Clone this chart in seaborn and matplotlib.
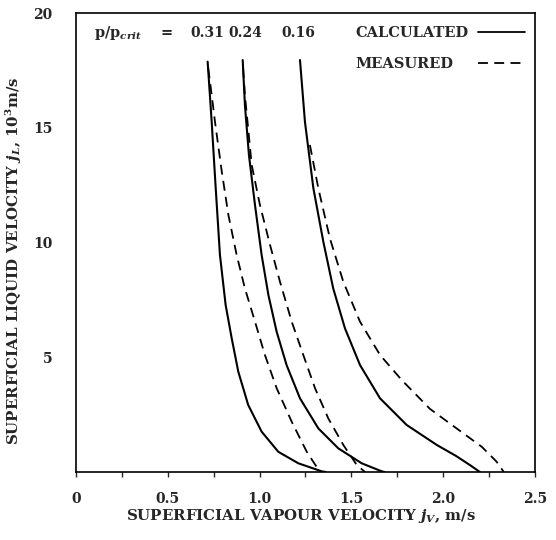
import matplotlib
matplotlib.use('Agg')
import matplotlib.pyplot as plt
import seaborn as sns
import numpy as np
import pandas as pd
from matplotlib.lines import Line2D
from matplotlib.legend import Legend
from matplotlib.ticker import MultipleLocator, FuncFormatter

sns.set_style('ticks')
plt.rcParams['font.family'] = ['DejaVu Serif']
plt.rcParams['font.weight'] = 'bold'
plt.rcParams['mathtext.fontset'] = 'dejavuserif'

# pressure ratios p/p_crit
ratios = ['0.31', '0.24', '0.16']

# calculated curves (jV in m/s, jL in 10^3 m/s)
calc_jv_031 = [0.717, 0.739, 0.761, 0.784, 0.815, 0.848, 0.884, 0.938, 1.011, 1.102, 1.211, 1.338, 1.36]
calc_jl_031 = [17.88, 15.26, 12.36, 9.46, 7.28, 5.83, 4.37, 2.92, 1.76, 0.88, 0.38, 0.03, 0.0]
calc_jv_024 = [0.908, 0.920, 0.942, 0.975, 1.011, 1.048, 1.093, 1.147, 1.220, 1.320, 1.429, 1.556, 1.665, 1.68]
calc_jl_024 = [17.95, 15.99, 13.81, 11.63, 9.46, 7.71, 6.11, 4.66, 3.21, 1.90, 1.03, 0.38, 0.03, 0.0]
calc_jv_016 = [1.220, 1.247, 1.293, 1.347, 1.401, 1.465, 1.547, 1.656, 1.801, 1.965, 2.070, 2.150, 2.20]
calc_jl_016 = [17.95, 15.26, 12.36, 10.04, 8.00, 6.26, 4.66, 3.21, 2.05, 1.18, 0.70, 0.28, 0.0]

# measured curves
meas_jv_031 = [0.720, 0.730, 0.757, 0.794, 0.830, 0.875, 0.920, 0.975, 1.029, 1.093, 1.175, 1.257, 1.329]
meas_jl_031 = [17.60, 17.00, 15.26, 13.09, 11.20, 9.46, 8.00, 6.55, 5.10, 3.65, 2.19, 0.88, 0.0]
meas_jv_024 = [0.910, 0.920, 0.957, 1.002, 1.057, 1.111, 1.175, 1.238, 1.302, 1.374, 1.456, 1.529, 1.574]
meas_jl_024 = [17.60, 16.43, 13.38, 11.63, 9.89, 8.29, 6.55, 5.10, 3.65, 2.34, 1.18, 0.31, 0.0]
meas_jv_016 = [1.274, 1.320, 1.383, 1.456, 1.547, 1.656, 1.775, 1.928, 2.073, 2.210, 2.291, 2.330]
meas_jl_016 = [14.25, 12.36, 10.18, 8.29, 6.55, 5.10, 4.00, 2.75, 1.90, 1.10, 0.45, 0.0]

curves = [
    ('0.31', 'CALCULATED', calc_jv_031, calc_jl_031),
    ('0.24', 'CALCULATED', calc_jv_024, calc_jl_024),
    ('0.16', 'CALCULATED', calc_jv_016, calc_jl_016),
    ('0.31', 'MEASURED', meas_jv_031, meas_jl_031),
    ('0.24', 'MEASURED', meas_jv_024, meas_jl_024),
    ('0.16', 'MEASURED', meas_jv_016, meas_jl_016),
]
rows = []
for r, kind, xs, ys in curves:
    for x, y in zip(xs, ys):
        rows.append({'ratio': r, 'kind': kind, 'jv': x, 'jl': y})
df = pd.DataFrame(rows)
df['curve'] = df['ratio'] + '_' + df['kind']

fig = plt.figure(figsize=(5.56, 5.40), dpi=100)
ax = fig.add_axes([0.1367, 0.1259, 0.8255, 0.8500])

dash = (0, (5.5, 3.5))
for name, g in df.groupby('curve', sort=False):
    kind = g['kind'].iloc[0]
    sns.lineplot(data=g, x='jv', y='jl', sort=False, estimator=None, ax=ax,
                 color='black', lw=1.5 if kind == 'CALCULATED' else 1.3,
                 legend=False, linestyle='-' if kind == 'CALCULATED' else dash,
                 solid_joinstyle='round')

ax.set_xlim(0, 2.5)
ax.set_ylim(0, 20)
ax.xaxis.set_major_locator(MultipleLocator(0.5))
ax.xaxis.set_minor_locator(MultipleLocator(0.25))
ax.xaxis.set_major_formatter(FuncFormatter(lambda v, p: '0' if v == 0 else f'{v:.1f}'))
ax.set_yticks([5, 10, 15, 20])
ax.tick_params(axis='x', which='both', direction='out', length=3.5, width=1, pad=11, labelsize=10)
ax.tick_params(axis='y', length=0, pad=17, labelsize=10)
for s in ax.spines.values():
    s.set_linewidth(1.2)
    s.set_color('black')

ax.set_xlabel(r'SUPERFICIAL VAPOUR VELOCITY $j_V$, m/s', fontsize=10.8, fontweight='bold')
ax.xaxis.set_label_coords(0.49, -0.076)
ax.set_ylabel(r'SUPERFICIAL LIQUID VELOCITY $j_L$, 10$^3$m/s', fontsize=10.8, fontweight='bold')
ax.yaxis.set_label_coords(-0.113, 0.46)

# top annotations
ax.text(0.10, 19.13, r'p/p$_{crit}$    =', fontsize=10.5, fontweight='bold', va='center', ha='left')
label_x = [0.713, 0.92, 1.21]
for r, lx in zip(ratios, label_x):
    ax.text(lx, 19.13, r, fontsize=10, fontweight='bold', va='center', ha='center')

ax.text(1.52, 19.13, 'CALCULATED', fontsize=10.5, fontweight='bold', va='center', ha='left')
ax.text(1.52, 17.78, 'MEASURED', fontsize=10.5, fontweight='bold', va='center', ha='left')

key_calc = Line2D([], [], color='black', lw=1.3, linestyle='-')
key_meas = Line2D([], [], color='black', lw=1.3, linestyle=dash)
for h, yc in [(key_calc, 0.956), (key_meas, 0.889)]:
    leg = Legend(ax, [h], [''], loc='center right', bbox_to_anchor=(0.978, yc),
                 frameon=False, borderpad=0, borderaxespad=0, handletextpad=0,
                 handlelength=3.2, fontsize=10.5)
    ax.add_artist(leg)

fig.savefig('out.png', dpi=100)
